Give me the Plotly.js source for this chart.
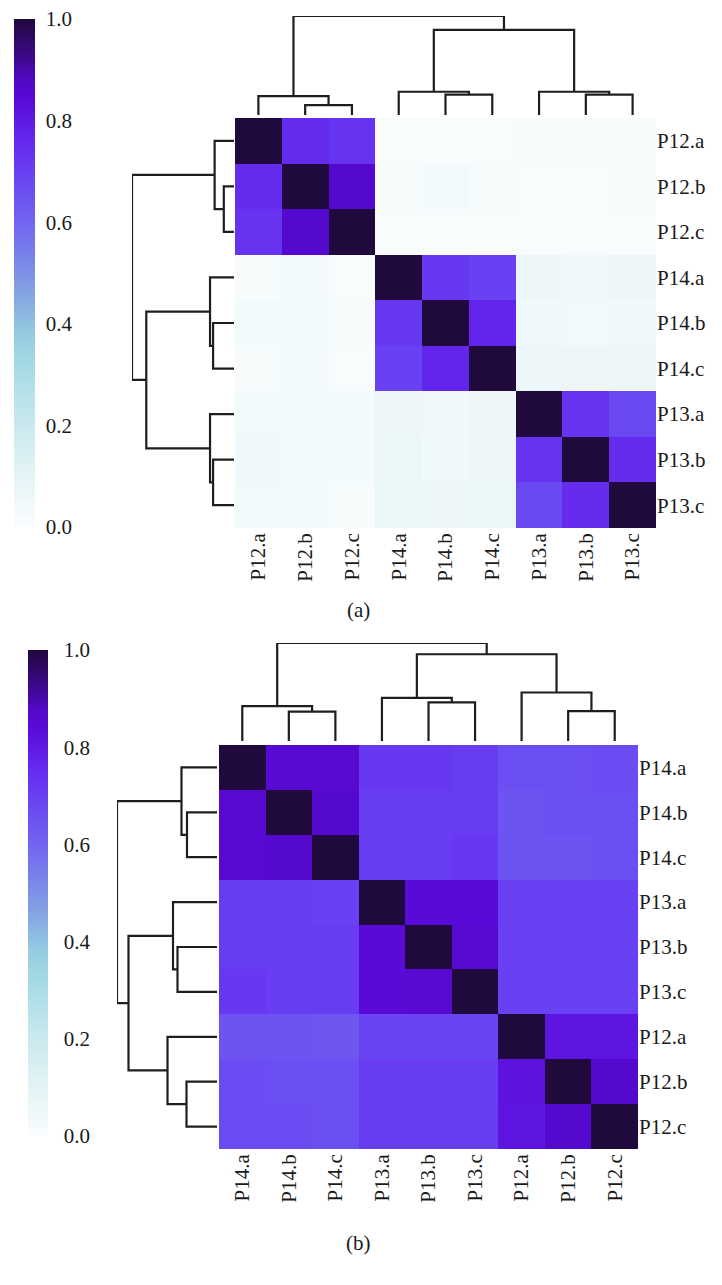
<!DOCTYPE html>
<html>
<head>
<meta charset="utf-8">
<script src="https://cdn.plot.ly/plotly-3.0.1.min.js"></script>
<style>
  html, body { margin: 0; padding: 0; background: #fff; }
  #chart { width: 722px; height: 1285px; }
</style>
</head>
<body>
<div id="chart"></div>
<script>
// (a) order of rows/cols after clustering
const labelsA = ['P12.a', 'P12.b', 'P12.c', 'P14.a', 'P14.b', 'P14.c', 'P13.a', 'P13.b', 'P13.c'];
const zA = [
  [1.00, 0.75, 0.73, 0.01, 0.01, 0.01, 0.02, 0.02, 0.02],
  [0.75, 1.00, 0.86, 0.02, 0.03, 0.02, 0.01, 0.01, 0.02],
  [0.73, 0.86, 1.00, 0.01, 0.01, 0.01, 0.01, 0.01, 0.01],
  [0.02, 0.03, 0.01, 1.00, 0.72, 0.70, 0.06, 0.05, 0.06],
  [0.03, 0.04, 0.02, 0.72, 1.00, 0.77, 0.05, 0.04, 0.05],
  [0.02, 0.03, 0.01, 0.70, 0.77, 1.00, 0.06, 0.06, 0.06],
  [0.04, 0.04, 0.03, 0.06, 0.05, 0.06, 1.00, 0.73, 0.68],
  [0.05, 0.03, 0.03, 0.07, 0.05, 0.06, 0.73, 1.00, 0.75],
  [0.04, 0.04, 0.02, 0.07, 0.06, 0.07, 0.68, 0.75, 1.00]
];
// merges: [left, right, height], leaves 0..8 by display position, new clusters 9..
const linkA = [
  [1, 2, 0.10], [0, 9, 0.19],
  [4, 5, 0.205], [3, 11, 0.235],
  [7, 8, 0.205], [6, 13, 0.235],
  [12, 14, 0.86], [10, 15, 1.0]
];

// (b)
const labelsB = ['P14.a', 'P14.b', 'P14.c', 'P13.a', 'P13.b', 'P13.c', 'P12.a', 'P12.b', 'P12.c'];
const zB = [
  [1.00, 0.85, 0.85, 0.72, 0.72, 0.71, 0.66, 0.66, 0.67],
  [0.85, 1.00, 0.86, 0.71, 0.71, 0.71, 0.65, 0.66, 0.66],
  [0.85, 0.86, 1.00, 0.71, 0.71, 0.72, 0.65, 0.65, 0.66],
  [0.71, 0.71, 0.70, 1.00, 0.84, 0.84, 0.70, 0.70, 0.70],
  [0.71, 0.71, 0.71, 0.84, 1.00, 0.85, 0.70, 0.70, 0.70],
  [0.72, 0.71, 0.71, 0.84, 0.85, 1.00, 0.70, 0.70, 0.70],
  [0.65, 0.65, 0.64, 0.69, 0.69, 0.69, 1.00, 0.81, 0.81],
  [0.67, 0.66, 0.66, 0.71, 0.71, 0.71, 0.82, 1.00, 0.86],
  [0.67, 0.67, 0.66, 0.71, 0.71, 0.71, 0.81, 0.86, 1.00]
];
const linkB = [
  [1, 2, 0.30], [0, 9, 0.355],
  [4, 5, 0.395], [3, 11, 0.44],
  [7, 8, 0.305], [6, 13, 0.495],
  [12, 14, 0.885], [10, 15, 1.0]
];

const cbTicks = [0, 0.2, 0.4, 0.6, 0.8, 1.0];

const scale = [
  [0.00, '#fafdfe'], [0.05, '#eff8fa'], [0.10, '#e4f4f6'], [0.20, '#cae9ee'],
  [0.30, '#aadde6'], [0.38, '#95cce0'], [0.45, '#85a8e2'], [0.52, '#7a88e8'],
  [0.60, '#7264f0'], [0.68, '#6a48f2'], [0.76, '#6428f0'], [0.84, '#5a0ad8'],
  [0.88, '#5208c4'], [0.93, '#3c0886'], [1.00, '#20093c']
];

const W = 722, H = 1285;
const px = v => v / W;
const py = v => 1 - v / H;

// turn merge list into U-shaped segments
function dendro(link, n) {
  const pos = [], hgt = [];
  for (let i = 0; i < n; i++) { pos.push(i); hgt.push(0); }
  const a = [], b = [];
  link.forEach(m => {
    const [l, r, h] = m;
    a.push(pos[l], pos[l], pos[r], pos[r], null);
    b.push(hgt[l], h, h, hgt[r], null);
    pos.push((pos[l] + pos[r]) / 2);
    hgt.push(h);
  });
  return { pos: a, h: b };
}

const font = { family: 'Liberation Serif, Times New Roman, serif', size: 21, color: '#1a1a1a' };
const lineStyle = { color: '#1e1e1e', width: 2.2 };

function panel(labels, z, link, ax, cb) {
  const d = dendro(link, labels.length);
  const idx = labels.map((_, i) => i);
  return [
    {
      type: 'heatmap', z: z, x: idx, y: idx,
      xaxis: 'x' + ax.hm, yaxis: 'y' + ax.hm,
      colorscale: scale, zmin: 0, zmax: 1,
      hovertemplate: '%{z}<extra></extra>',
      colorbar: {
        x: px(cb.x), xref: 'paper', xanchor: 'left',
        y: py(cb.top), yref: 'paper', yanchor: 'top',
        len: cb.len, lenmode: 'pixels', thickness: cb.w,
        xpad: 0, ypad: 0, outlinewidth: 0,
        tickvals: cbTicks, tickformat: '.1f',
        ticks: 'outside', ticklen: cb.gap, tickcolor: 'rgba(0,0,0,0)',
        tickfont: font
      }
    },
    { // top dendrogram
      type: 'scatter', mode: 'lines', x: d.pos, y: d.h,
      xaxis: 'x' + ax.top, yaxis: 'y' + ax.top,
      line: lineStyle, hoverinfo: 'skip', showlegend: false
    },
    { // left dendrogram
      type: 'scatter', mode: 'lines', x: d.h, y: d.pos,
      xaxis: 'x' + ax.left, yaxis: 'y' + ax.left,
      line: lineStyle, hoverinfo: 'skip', showlegend: false
    }
  ];
}

const data = [].concat(
  panel(labelsA, zA, linkA, { hm: '', top: '2', left: '3' },
        { x: 14, top: 19, len: 508, w: 21, gap: 7 }),
  panel(labelsB, zB, linkB, { hm: '4', top: '5', left: '6' },
        { x: 28, top: 650, len: 486, w: 20, gap: 12 })
);

const hidden = { visible: false, fixedrange: true };
const cellRange = [-0.5, 8.5];

function hmX(dom, labels, anchor) {
  return {
    domain: dom, range: cellRange, anchor: anchor,
    tickvals: labels.map((_, i) => i), ticktext: labels,
    tickangle: -90, ticks: '', showgrid: false, zeroline: false,
    showline: false, tickfont: font
  };
}
function hmY(dom, labels, anchor) {
  return {
    domain: dom, range: [8.5, -0.5], anchor: anchor, side: 'right',
    tickvals: labels.map((_, i) => i), ticktext: labels,
    ticks: '', showgrid: false, zeroline: false, showline: false,
    tickfont: font
  };
}

const layout = {
  width: W, height: H,
  margin: { l: 0, r: 0, t: 0, b: 0 },
  paper_bgcolor: '#fff', plot_bgcolor: 'rgba(0,0,0,0)',
  showlegend: false,
  // panel (a)
  xaxis: hmX([px(235), px(656)], labelsA, 'y'),
  yaxis: hmY([py(528), py(118)], labelsA, 'x'),
  xaxis2: Object.assign({ domain: [px(235), px(656)], range: cellRange, anchor: 'y2' }, hidden),
  yaxis2: Object.assign({ domain: [py(115), py(16)], range: [0, 1.0], anchor: 'x2' }, hidden),
  xaxis3: Object.assign({ domain: [px(132), px(234)], range: [1.0, 0], anchor: 'y3' }, hidden),
  yaxis3: Object.assign({ domain: [py(528), py(118)], range: [8.5, -0.5], anchor: 'x3' }, hidden),
  // panel (b)
  xaxis4: hmX([px(219), px(638)], labelsB, 'y4'),
  yaxis4: hmY([py(1149), py(745)], labelsB, 'x4'),
  xaxis5: Object.assign({ domain: [px(219), px(638)], range: cellRange, anchor: 'y5' }, hidden),
  yaxis5: Object.assign({ domain: [py(741), py(643)], range: [0, 1.0], anchor: 'x5' }, hidden),
  xaxis6: Object.assign({ domain: [px(117), px(217)], range: [1.0, 0], anchor: 'y6' }, hidden),
  yaxis6: Object.assign({ domain: [py(1149), py(745)], range: [8.5, -0.5], anchor: 'x6' }, hidden),
  annotations: [
    { text: '(a)', xref: 'paper', yref: 'paper', x: px(358), y: py(610),
      yanchor: 'middle', showarrow: false, font: font },
    { text: '(b)', xref: 'paper', yref: 'paper', x: px(358), y: py(1243),
      yanchor: 'middle', showarrow: false, font: font }
  ]
};

Plotly.newPlot('chart', data, layout, { displayModeBar: false, staticPlot: true });
</script>
</body>
</html>
